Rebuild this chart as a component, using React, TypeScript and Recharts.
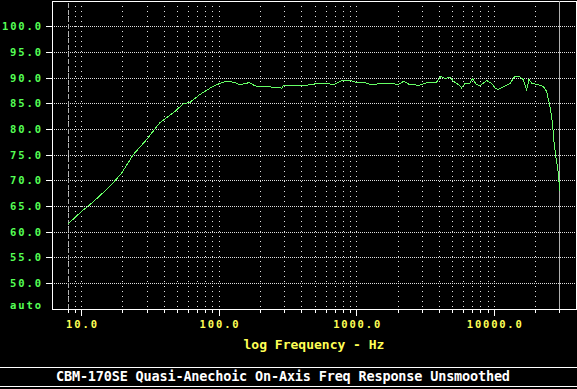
import {
  CartesianGrid,
  Label,
  Line,
  LineChart,
  ReferenceArea,
  ReferenceLine,
  XAxis,
  YAxis,
} from "recharts";

const freqHz = [
  8, 10, 12.2, 16.1, 19.6, 23.8, 29.7, 37.1, 47.8, 55, 61, 72.6, 90.6, 107,
  113, 127, 141.7, 165.6, 182, 197, 277, 285, 293, 346, 436, 512, 604, 676,
  714, 798, 892, 971, 1114, 1283, 1476, 1797, 2004, 2203, 2420, 2877, 3306,
  3807, 4096, 4385, 4766, 5030, 5619, 5780, 6110, 6640, 6912, 7450, 7875,
  8790, 9550, 10090, 10670, 11950, 13010, 14100, 15350, 16240, 17180, 17860,
  18700, 20800, 22600, 24000, 25360, 26500, 27000, 28200, 29000, 30000,
];
const splDb = [
  61.6, 64.0, 65.9, 68.9, 71.5, 75.1, 78.0, 81.3, 83.5, 85.0, 85.2, 86.8,
  88.4, 89.2, 89.3, 89.2, 88.7, 89.1, 88.5, 88.3, 88.2, 88.0, 88.5, 88.5,
  88.6, 88.9, 89.0, 88.7, 89.0, 89.6, 89.6, 89.2, 89.2, 88.7, 88.9, 89.0,
  88.7, 89.4, 88.7, 88.6, 89.2, 89.2, 90.35, 89.85, 90.2, 89.4, 88.5, 88.1,
  88.9, 88.9, 89.9, 88.7, 88.5, 89.5, 89.0, 88.1, 87.75, 88.4, 88.9, 90.35,
  90.2, 89.7, 87.75, 89.7, 89.0, 88.7, 88.4, 87.4, 84.5, 81.25, 78.0, 74.1,
  72.1, 67.9,
];

const xGridHz = [
  8, 9, 10, 20, 30, 40, 50, 60, 70, 80, 90, 100, 200, 300, 400, 500, 600,
  700, 800, 900, 1000, 2000, 3000, 4000, 5000, 6000, 7000, 8000, 9000, 10000,
  20000, 30000,
];
const xLabelHz = [10, 100, 1000, 10000];
const yTicks = [45, 50, 55, 60, 65, 70, 75, 80, 85, 90, 95, 100];
const xDomain = [6.1, 39250];
const yDomain = [45, 105];
const dataStartHz = 8;
const dataEndHz = 30000;
const title = "CBM-170SE Quasi-Anechoic On-Axis Freq Response Unsmoothed";

const data = freqHz.map((f, i) => ({ f, db: splDb[i] }));

const GREEN = "#55ff55";
const YELLOW = "#ffff55";
const FONT = "'DejaVu Sans Mono', monospace";

function XTick({ x, y, payload }: any) {
  const v = payload.value;
  const major = xLabelHz.includes(v);
  const txt = v.toFixed(1);
  return (
    <g>
      <line
        x1={x}
        x2={x}
        y1={y}
        y2={y + (major ? 7 : 4)}
        stroke="#fff"
        shapeRendering="crispEdges"
      />
      {major && (
        <text
          x={x}
          y={y + 18.7}
          textAnchor="middle"
          fill={YELLOW}
          fontFamily={FONT}
          fontWeight="bold"
          fontSize={10.5}
          textLength={txt.length * 8 - 1}
          lengthAdjust="spacing"
        >
          {txt}
        </text>
      )}
    </g>
  );
}

function YTick({ x, y, payload }: any) {
  const v = payload.value;
  const isAuto = v === yDomain[0];
  const txt = isAuto ? "auto" : v.toFixed(1);
  return (
    <g>
      {!isAuto && (
        <line
          x1={x - 6}
          x2={x}
          y1={y}
          y2={y}
          stroke="#fff"
          shapeRendering="crispEdges"
        />
      )}
      <text
        x={x - 11}
        y={y + (isAuto ? 0.4 : 3.7)}
        textAnchor="end"
        fill={GREEN}
        fontFamily={FONT}
        fontWeight="bold"
        fontSize={10.5}
        textLength={txt.length * 8 - 1}
        lengthAdjust="spacing"
      >
        {txt}
      </text>
    </g>
  );
}

export default function App() {
  return (
    <div
      style={{
        position: "absolute",
        left: 0,
        top: 0,
        width: 577,
        height: 389,
        background: "#000",
        overflow: "hidden",
      }}
    >
      <LineChart
        width={577}
        height={389}
        data={data}
        margin={{ top: 1, right: 1, bottom: 0, left: 0 }}
      >
        <CartesianGrid
          horizontal={false}
          stroke="#e0e0e0"
          strokeDasharray="1 4"
          shapeRendering="crispEdges"
        />
        <CartesianGrid
          vertical={false}
          stroke="#e0e0e0"
          strokeDasharray="1 1"
          shapeRendering="crispEdges"
        />
        <XAxis
          dataKey="f"
          type="number"
          scale="log"
          domain={xDomain}
          ticks={xGridHz}
          interval={0}
          allowDataOverflow
          axisLine={false}
          tickLine={false}
          tickSize={0}
          tickMargin={0}
          height={80}
          tick={<XTick />}
        >
          <Label
            value="log Frequency - Hz"
            position="insideBottom"
            offset={40}
            fill={YELLOW}
            fontFamily={FONT}
            fontWeight="bold"
            fontSize={13}
          />
        </XAxis>
        <YAxis
          type="number"
          domain={yDomain}
          ticks={yTicks}
          interval={0}
          allowDataOverflow
          axisLine={false}
          tickLine={false}
          tickSize={0}
          tickMargin={0}
          width={52}
          tick={<YTick />}
        />
        <ReferenceLine
          x={dataStartHz}
          stroke="#b0b0b0"
          strokeDasharray="5 2"
          shapeRendering="crispEdges"
        />
        <ReferenceLine
          x={dataEndHz}
          stroke="#b0b0b0"
          shapeRendering="crispEdges"
        />
        <ReferenceArea
          x1={xDomain[0]}
          x2={xDomain[1]}
          y1={yDomain[0]}
          y2={yDomain[1]}
          fill="none"
          fillOpacity={0}
          stroke="#fff"
          strokeOpacity={1}
          shapeRendering="crispEdges"
        />
        <Line
          type="linear"
          dataKey="db"
          stroke="#66ff66"
          strokeWidth={1}
          dot={false}
          shapeRendering="crispEdges"
          isAnimationActive={false}
        />
      </LineChart>
      <svg
        width={577}
        height={389}
        style={{ position: "absolute", left: 0, top: 0, pointerEvents: "none" }}
      >
        <line x1={0} x2={577} y1={367.5} y2={367.5} stroke="#fff" />
        <line x1={0} x2={577} y1={386.5} y2={386.5} stroke="#fff" />
        <text
          x={56}
          y={381}
          fill="#fff"
          fontFamily={FONT}
          fontWeight="bold"
          fontSize={13.5}
          textLength={454}
          lengthAdjust="spacing"
        >
          {title}
        </text>
      </svg>
    </div>
  );
}
